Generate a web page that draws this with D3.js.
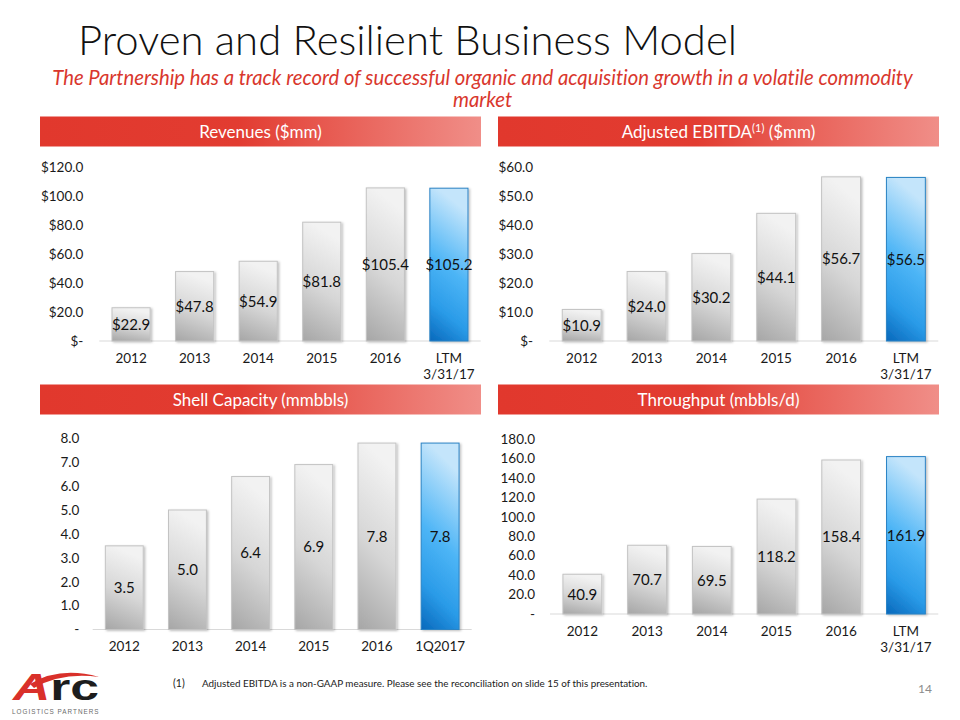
<!DOCTYPE html>
<html>
<head>
<meta charset="utf-8">
<script src="https://cdn.jsdelivr.net/npm/d3@7/dist/d3.min.js"></script>
<style>
  html, body { margin: 0; padding: 0; background: #fff; }
  svg { display: block; font-family: Lato, "Open Sans", sans-serif; font-variant-ligatures: none; }
</style>
</head>
<body>
<svg id="chart" width="960" height="720"></svg>
<script>
// ---------------- DATA ----------------
const yearCats      = ["2012", "2013", "2014", "2015", "2016", "LTM\n3/31/17"];
const shellCats     = ["2012", "2013", "2014", "2015", "2016", "1Q2017"];
const revenues      = [22.9, 47.8, 54.9, 81.8, 105.4, 105.2];
const ebitda        = [10.9, 24.0, 30.2, 44.1, 56.7, 56.5];
const shellCapacity = [3.5, 5.0, 6.4, 6.9, 7.8, 7.8];
const throughput    = [40.9, 70.7, 69.5, 118.2, 158.4, 161.9];
const revenueTicks    = [0, 20, 40, 60, 80, 100, 120];
const ebitdaTicks     = [0, 10, 20, 30, 40, 50, 60];
const shellTicks      = [0, 1, 2, 3, 4, 5, 6, 7, 8];
const throughputTicks = [0, 20, 40, 60, 80, 100, 120, 140, 160, 180];
const titleText    = "Proven and Resilient Business Model";
const subtitleText = ["The Partnership has a track record of successful organic and acquisition growth in a volatile commodity", "market"];
const footnoteText = "Adjusted EBITDA is a non-GAAP measure. Please see the reconciliation on slide 15 of this presentation.";

// ---------------- SETUP ----------------
const svg = d3.select("#chart");
const defs = svg.append("defs");

const hdrGrad = defs.append("linearGradient").attr("id", "hdrGrad").attr("x1", 0).attr("x2", 1).attr("y1", 0).attr("y2", 0);
hdrGrad.append("stop").attr("offset", "0%").attr("stop-color", "#e1382d");
hdrGrad.append("stop").attr("offset", "45%").attr("stop-color", "#e23c31");
hdrGrad.append("stop").attr("offset", "100%").attr("stop-color", "#f08e88");

const grayGrad = defs.append("linearGradient").attr("id", "grayGrad").attr("x1", 0.2).attr("x2", 0).attr("y1", 0).attr("y2", 1);
grayGrad.append("stop").attr("offset", "0%").attr("stop-color", "#f2f2f2");
grayGrad.append("stop").attr("offset", "50%").attr("stop-color", "#d6d6d6");
grayGrad.append("stop").attr("offset", "100%").attr("stop-color", "#a6a6a6");

const blueGrad = defs.append("linearGradient").attr("id", "blueGrad").attr("x1", 0.2).attr("x2", 0).attr("y1", 0).attr("y2", 1);
blueGrad.append("stop").attr("offset", "0%").attr("stop-color", "#c4e5fb");
blueGrad.append("stop").attr("offset", "45%").attr("stop-color", "#4db5f6");
blueGrad.append("stop").attr("offset", "75%").attr("stop-color", "#2a9be8");
blueGrad.append("stop").attr("offset", "100%").attr("stop-color", "#0868bb");

const sh = defs.append("filter").attr("id", "barShadow").attr("x", "-20%").attr("y", "-10%").attr("width", "150%").attr("height", "130%");
sh.append("feDropShadow").attr("dx", 1.5).attr("dy", 1).attr("stdDeviation", 1.2).attr("flood-color", "#000").attr("flood-opacity", 0.25);

const lineSh = defs.append("filter").attr("id", "lineShadow").attr("x", "-5%").attr("y", "-200%").attr("width", "110%").attr("height", "500%");
lineSh.append("feDropShadow").attr("dx", 1).attr("dy", 2).attr("stdDeviation", 1.2).attr("flood-color", "#000").attr("flood-opacity", 0.3);

function fitText(sel, targetWidth) {
  const node = sel.node();
  const w = node.getComputedTextLength();
  const fs = parseFloat(sel.attr("font-size"));
  sel.attr("font-size", (fs * targetWidth / w).toFixed(2));
}

// ---------------- TITLE ----------------
const title = svg.append("text").attr("x", 78).attr("y", 55)
  .attr("font-size", 42).attr("font-weight", 300).attr("fill", "#111").text(titleText);
fitText(title, 659);

svg.append("line").attr("x1", 66).attr("x2", 894).attr("y1", 64).attr("y2", 64)
  .attr("stroke", "#d8372c").attr("stroke-width", 3.5).attr("filter", "url(#lineShadow)");

// subtitle: one text element, wrapped into two lines
const subFit = svg.append("text").attr("font-size", 18).attr("font-style", "italic").text(subtitleText[0]);
fitText(subFit, 861);
const subSize = subFit.attr("font-size");
subFit.remove();
const sub = svg.append("text").attr("text-anchor", "middle").attr("font-size", subSize)
  .attr("font-style", "italic").attr("fill", "#d9372d");
sub.append("tspan").attr("x", 482.5).attr("y", 85).text(subtitleText[0]);
sub.append("tspan").attr("x", 482.5).attr("y", 107).text(subtitleText[1]);

// ---------------- PANELS ----------------
const panels = [
  { title: "Revenues ($mm)", cats: yearCats, values: revenues, ticks: revenueTicks,
    fmt: v => v === 0 ? "$-" : "$" + v.toFixed(1), lbl: v => "$" + v.toFixed(1),
    hx: 40, hy: 116.5, hw: 441, x0: 99.3, x1: 480.7, y0: 341, yTop: 166.7, tickRight: 83.3 },
  { title: "Adjusted EBITDA", sup: "(1)", after: " ($mm)", cats: yearCats, values: ebitda, ticks: ebitdaTicks,
    fmt: v => v === 0 ? "$-" : "$" + v.toFixed(1), lbl: v => "$" + v.toFixed(1),
    hx: 498, hy: 116.5, hw: 441, x0: 549.3, x1: 938.3, y0: 341, yTop: 167.3, tickRight: 533 },
  { title: "Shell Capacity (mmbbls)", cats: shellCats, values: shellCapacity, ticks: shellTicks,
    fmt: v => v === 0 ? "-" : v.toFixed(1), lbl: v => v.toFixed(1),
    hx: 40, hy: 384.5, hw: 441, x0: 92.7, x1: 471.7, y0: 629.5, yTop: 438.3, tickRight: 79.3 },
  { title: "Throughput (mbbls/d)", cats: yearCats, values: throughput, ticks: throughputTicks,
    fmt: v => v === 0 ? "-" : v.toFixed(1), lbl: v => v.toFixed(1),
    hx: 498, hy: 384.5, hw: 441, x0: 550, x1: 938.3, y0: 614, yTop: 439, tickRight: 535 }
];

panels.forEach(p => {
  const g = svg.append("g");
  // header bar
  g.append("rect").attr("x", p.hx).attr("y", p.hy).attr("width", p.hw).attr("height", 30).attr("fill", "url(#hdrGrad)");
  const ht = g.append("text").attr("x", p.hx + p.hw / 2).attr("y", p.hy + 21).attr("text-anchor", "middle")
    .attr("font-size", 17).attr("fill", "#fff");
  ht.append("tspan").text(p.title);
  if (p.sup) {
    ht.append("tspan").attr("font-size", 11).attr("dy", -6).text(p.sup);
    ht.append("tspan").attr("dy", 6).text(p.after);
  }

  const x = d3.scaleBand().domain(p.cats).range([p.x0, p.x1]).paddingInner(0.4).paddingOuter(0.2);
  const yMax = p.ticks[p.ticks.length - 1];
  const y = d3.scaleLinear().domain([0, yMax]).range([p.y0, p.yTop]);

  // y axis
  const yAxis = g.append("g").attr("transform", `translate(${p.x0},0)`)
    .call(d3.axisLeft(y).tickValues(p.ticks).tickFormat(p.fmt).tickSize(0).tickPadding(p.x0 - p.tickRight));
  yAxis.select(".domain").remove();
  yAxis.selectAll("text").attr("font-size", 13.5).attr("fill", "#1a1a1a").attr("font-family", "Lato, sans-serif");

  // baseline
  g.append("line").attr("x1", p.x0).attr("x2", p.x1).attr("y1", p.y0).attr("y2", p.y0)
    .attr("stroke", "#d9d9d9").attr("stroke-width", 1);

  // bars
  const n = p.values.length;
  g.selectAll("rect.bar").data(p.values).enter().append("rect")
    .attr("class", "bar")
    .attr("x", (d, i) => x(p.cats[i]))
    .attr("width", x.bandwidth())
    .attr("y", d => y(d))
    .attr("height", d => p.y0 - y(d))
    .attr("fill", (d, i) => i === n - 1 ? "url(#blueGrad)" : "url(#grayGrad)")
    .attr("stroke", (d, i) => i === n - 1 ? "#2b83c4" : "#c3c3c3")
    .attr("stroke-width", 1)
    .attr("filter", "url(#barShadow)");

  // value labels (centered inside)
  g.selectAll("text.val").data(p.values).enter().append("text")
    .attr("class", "val")
    .attr("x", (d, i) => x(p.cats[i]) + x.bandwidth() / 2)
    .attr("y", d => (y(d) + p.y0) / 2)
    .attr("dy", "0.36em")
    .attr("text-anchor", "middle")
    .attr("font-size", 15)
    .attr("fill", "#111")
    .text(p.lbl);

  // x axis
  const xAxis = g.append("g").attr("transform", `translate(0,${p.y0})`)
    .call(d3.axisBottom(x).tickSize(0).tickPadding(12));
  xAxis.select(".domain").remove();
  xAxis.selectAll("text").attr("font-size", 13.5).attr("fill", "#1a1a1a").attr("font-family", "Lato, sans-serif")
    .each(function(d) {
      const parts = d.split("\n");
      const t = d3.select(this);
      t.text(null);
      parts.forEach((s, k) => {
        t.append("tspan").attr("x", 0).attr("dy", k === 0 ? "0.71em" : "1.25em").text(s);
      });
    }).attr("dy", null);
});

// ---------------- FOOTNOTE ----------------
svg.append("text").attr("x", 173).attr("y", 687).attr("font-size", 10.5).attr("fill", "#1a1a1a").text("(1)");
const fn = svg.append("text").attr("x", 202).attr("y", 687).attr("font-size", 10.5).attr("fill", "#1a1a1a").text(footnoteText);
fitText(fn, 446);

svg.append("text").attr("x", 932).attr("y", 693).attr("text-anchor", "end").attr("font-size", 12).attr("fill", "#8c8c8c").text("14");

// ---------------- LOGO ----------------
const logo = svg.append("g");
logo.append("path")
  .attr("d", "M 30 684 Q 60 666 99 677 Q 62 672 34 688 Z")
  .attr("fill", "#d9302a");
const arc = logo.append("text").attr("x", 13).attr("y", 700).attr("font-size", 36).attr("font-weight", "bold")
  .attr("font-family", "'Liberation Sans', Arial, sans-serif")
  .attr("textLength", 86).attr("lengthAdjust", "spacingAndGlyphs");
arc.append("tspan").attr("fill", "#d9302a").attr("font-style", "italic").text("A");
arc.append("tspan").attr("fill", "#1d1d1d").text("rc");
const lp = logo.append("text").attr("x", 12).attr("y", 714).attr("font-size", 7).attr("letter-spacing", 1)
  .attr("font-family", "'Liberation Sans', Arial, sans-serif").attr("fill", "#6b6b6b").text("LOGISTICS PARTNERS");
fitText(lp, 86);
</script>
</body>
</html>
